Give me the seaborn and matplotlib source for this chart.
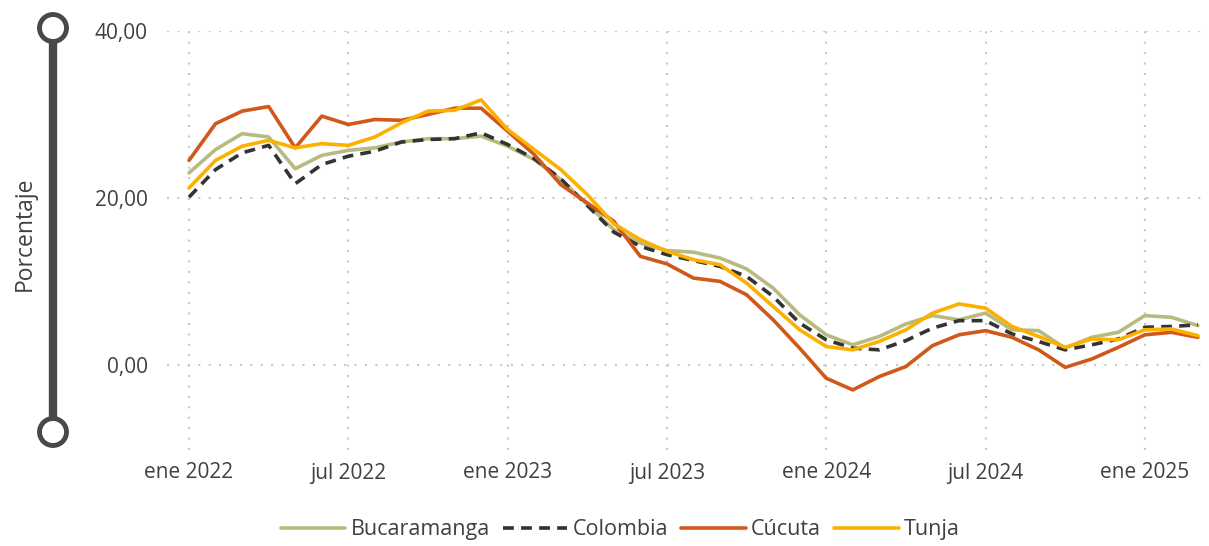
import matplotlib
matplotlib.use("Agg")
import matplotlib.pyplot as plt
from matplotlib.patches import Circle
from matplotlib.lines import Line2D
import seaborn as sns
import pandas as pd

# Monthly series, ene 2022 .. mar 2025
months = pd.date_range("2022-01-01", "2025-03-01", freq="MS")

bucaramanga = [23.0, 25.8, 27.7, 27.3, 23.5, 25.1, 25.7, 26.0, 26.7, 27.1, 27.1, 27.4,
               26.2, 24.6, 22.2, 19.2, 16.2, 14.6, 13.7, 13.5, 12.8, 11.5, 9.2, 6.0,
               3.6, 2.4, 3.4, 4.9, 5.9, 5.4, 6.2, 4.2, 4.1, 2.0, 3.3, 3.9,
               5.9, 5.7, 4.7]
colombia = [20.1, 23.4, 25.4, 26.3, 21.7, 24.0, 25.0, 25.6, 26.7, 27.0, 27.1, 27.8,
            26.4, 24.7, 22.3, 19.1, 15.9, 14.2, 13.2, 12.5, 11.8, 10.6, 8.2, 5.0,
            3.0, 2.0, 1.8, 2.9, 4.4, 5.3, 5.3, 3.7, 2.8, 1.8, 2.4, 3.1,
            4.5, 4.6, 4.8]
cucuta = [24.5, 28.9, 30.4, 30.95, 26.0, 29.8, 28.8, 29.4, 29.3, 30.0, 30.75, 30.75,
          28.0, 25.2, 21.6, 19.4, 17.2, 13.0, 12.1, 10.4, 10.0, 8.4, 5.4, 2.0,
          -1.6, -3.0, -1.4, -0.2, 2.3, 3.6, 4.1, 3.3, 1.8, -0.3, 0.7, 2.1,
          3.6, 3.9, 3.3]
tunja = [21.2, 24.5, 26.2, 26.9, 26.0, 26.5, 26.3, 27.3, 29.0, 30.4, 30.5, 31.75,
         28.2, 25.8, 23.4, 20.4, 16.9, 15.0, 13.6, 12.6, 12.0, 9.8, 7.0, 4.2,
         2.2, 1.8, 2.8, 4.2, 6.2, 7.3, 6.8, 4.6, 3.4, 2.1, 3.1, 3.0,
         4.2, 4.3, 3.5]

series_names = ["Bucaramanga", "Colombia", "Cúcuta", "Tunja"]
series_values = [bucaramanga, colombia, cucuta, tunja]

tick_positions = [0, 6, 12, 18, 24, 30, 36]
tick_labels = ["ene 2022", "jul 2022", "ene 2023", "jul 2023", "ene 2024", "jul 2024", "ene 2025"]
y_ticks = [0, 20, 40]

palette = {"Bucaramanga": "#b8ba80", "Colombia": "#333333",
           "Cúcuta": "#d0581a", "Tunja": "#fcb000"}
dashes = {"Bucaramanga": "", "Colombia": (3, 2), "Cúcuta": "", "Tunja": ""}

rows = []
for name, vals in zip(series_names, series_values):
    for i, v in enumerate(vals):
        rows.append({"idx": i, "mes": months[i], "valor": v, "serie": name})
df = pd.DataFrame(rows)

sns.set_theme(style="white")
plt.rcParams["font.family"] = ["Open Sans", "DejaVu Sans"]
text_color = "#404040"

fig = plt.figure(figsize=(12.09, 5.46), dpi=100)
ax = fig.add_axes([167 / 1209, 1 - 450 / 546, (1208 - 167) / 1209, (450 - 31) / 546])

sns.lineplot(data=df, x="idx", y="valor", hue="serie", style="serie",
             hue_order=series_names, style_order=series_names,
             palette=palette, dashes=dashes, linewidth=2.6, ax=ax, legend=False)

ax.set_xlim(-0.83, 38.38)
ax.set_ylim(-10.2, 40)
ax.set_xticks(tick_positions)
ax.set_xticklabels(tick_labels, fontsize=15, color=text_color)
ax.set_yticks(y_ticks)
ax.set_yticklabels([f"{v:.2f}".replace(".", ",") for v in y_ticks], fontsize=15, color=text_color)
ax.tick_params(axis="x", length=0, pad=9)
ax.tick_params(axis="y", length=0, pad=14)
ax.set_xlabel("")
ax.set_ylabel("")
for s in ax.spines.values():
    s.set_visible(False)

grid_kw = dict(color="#c8c8c8", linewidth=1.5, linestyle=(0, (1, 4)), zorder=0)
for t in tick_positions:
    ax.axvline(t, **grid_kw)
for t in y_ticks:
    ax.axhline(t, **grid_kw)

# Decorative axis bar with end circles, in pixel coordinates
deco = fig.add_axes([0, 0, 1, 1], zorder=-1)
deco.set_xlim(0, 1209)
deco.set_ylim(546, 0)
deco.axis("off")
bar_color = "#4a4846"
deco.add_line(Line2D([53, 53], [28, 432], color=bar_color, linewidth=6, solid_capstyle="butt"))
for cy in (28, 432):
    deco.add_patch(Circle((53, cy), 13.5, facecolor="white", edgecolor=bar_color, linewidth=3.5, zorder=3))
deco.text(25, 234, "Porcentaje", rotation=90, ha="center", va="center",
          fontsize=16.5, color=text_color)

handles = [Line2D([], [], color=palette[n], linewidth=2.6,
                  linestyle=(0, (3, 2)) if n == "Colombia" else "-") for n in series_names]
fig.legend(handles, series_names, loc="center", bbox_to_anchor=(0.513, 0.03), ncol=4,
           frameon=False, fontsize=15.5, handlelength=3.0, handletextpad=0.25,
           columnspacing=0.6, labelcolor=text_color)

fig.savefig("out.png", dpi=100)
